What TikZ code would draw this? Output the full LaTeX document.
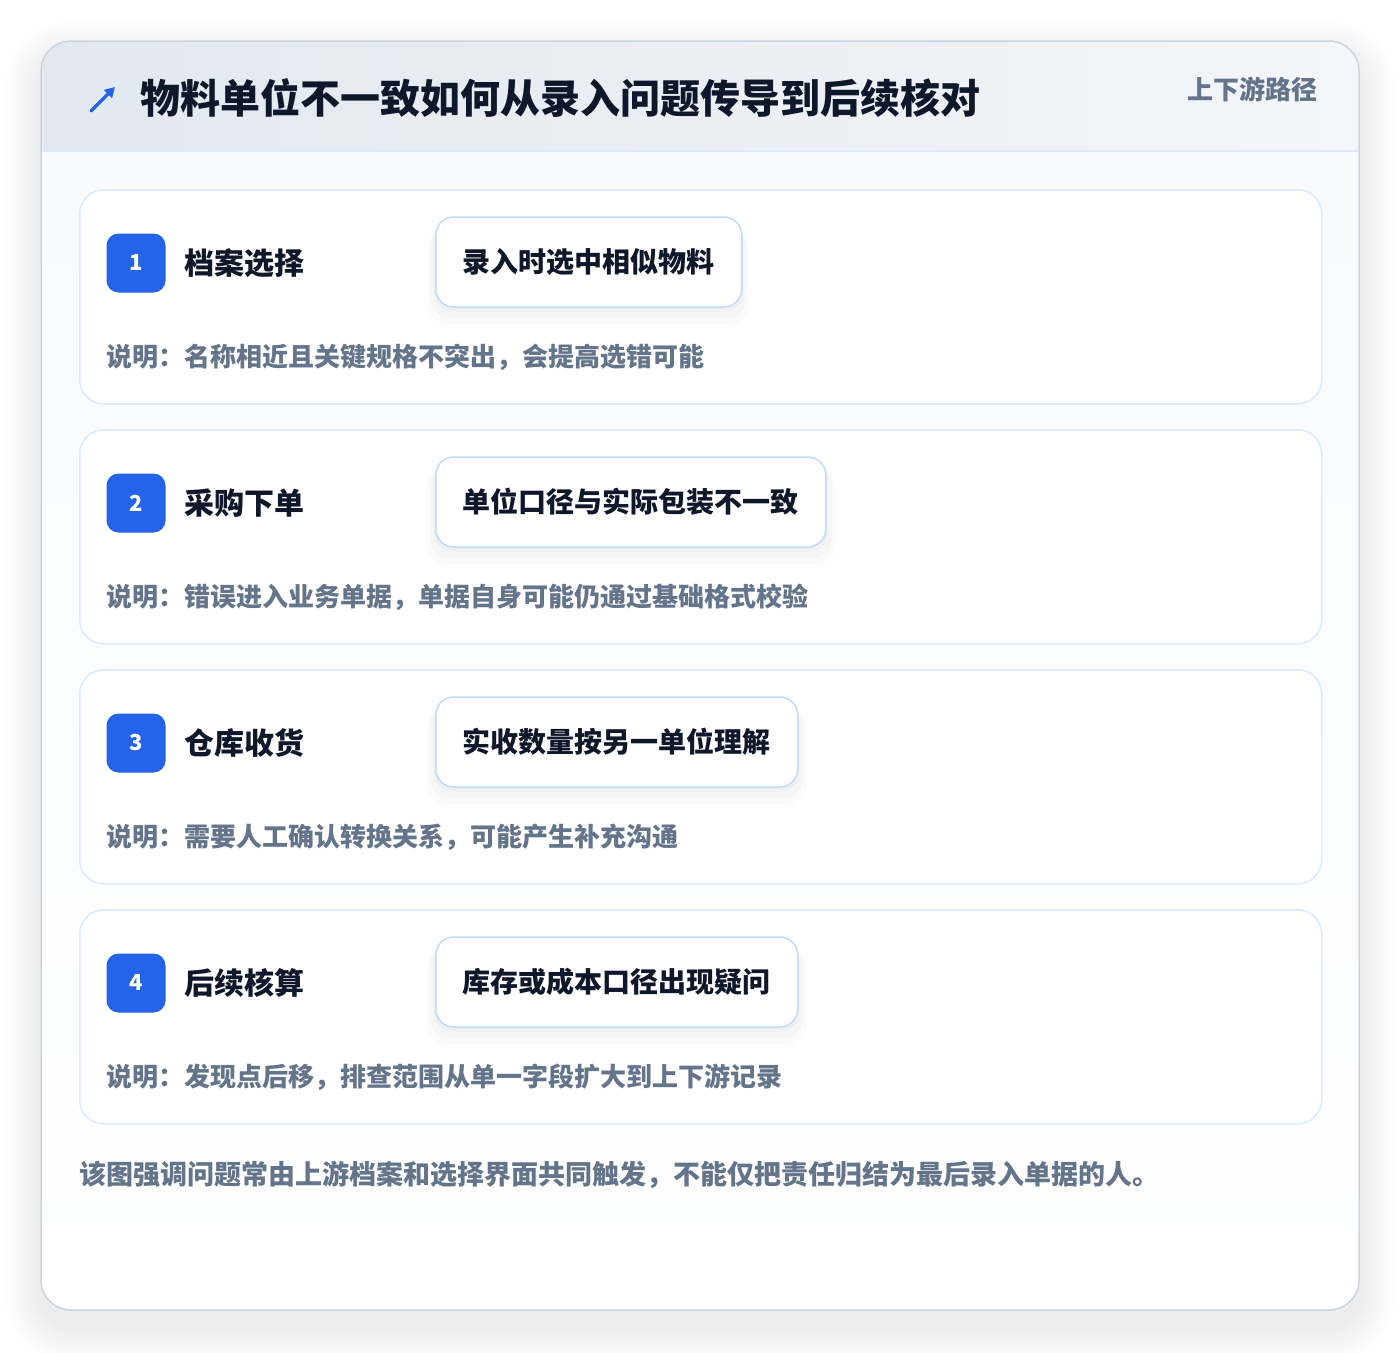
\documentclass[tikz,border=0pt]{standalone}
\usepackage{fontspec}
\setmainfont{Noto Sans CJK SC}
\usetikzlibrary{shadows,arrows.meta}
\definecolor{ink}{HTML}{0F172A}
\definecolor{muted}{HTML}{64748B}
\definecolor{accent}{HTML}{2563EB}
\definecolor{cardline}{HTML}{DBEAFE}
\definecolor{boxline}{HTML}{BFDBFE}
\definecolor{frameline}{HTML}{CBD5E1}
\definecolor{headl}{HTML}{E2E8F0}
\definecolor{headr}{HTML}{F3F6FA}
\definecolor{bodytop}{HTML}{F8FAFC}
\newcommand{\fs}[1]{\fontsize{#1}{#1}\selectfont}

\begin{document}
\begin{tikzpicture}[x=1pt, y=-1pt,
			line join=round, line cap=round,
			every node/.style = {inner sep=0pt, font=\bfseries},
			stepcard/.style = {draw=cardline, line width=1.5pt, fill=white, rounded corners=24pt,
				minimum width=1242pt, minimum height=214pt, anchor=north west},
			badge/.style = {fill=accent, rounded corners=12pt, minimum size=59pt, text=white, font=\fs{22}\bfseries},
			steplabel/.style = {anchor=west, text=ink, font=\fs{30}\bfseries},
			whatbox/.style = {draw=boxline, line width=1.5pt, fill=white, rounded corners=18pt,
				inner xsep=27pt, minimum height=90pt, anchor=west, text=ink, font=\fs{28}\bfseries,
				drop shadow={shadow xshift=0pt, shadow yshift=-4pt, shadow scale=1.01, fill=black, opacity=.025},
				drop shadow={shadow xshift=0pt, shadow yshift=-9pt, shadow scale=1.03, fill=black, opacity=.02},
				drop shadow={shadow xshift=0pt, shadow yshift=-14pt, shadow scale=1.05, fill=black, opacity=.015}},
			note/.style = {anchor=west, text=muted, font=\fs{26}\bfseries}
			]
			\useasboundingbox[fill=white] (0,0) rectangle (1400,1352);
			% soft shadow of the outer card
			\foreach \k [evaluate=\k as \r using 30+\k*2] in {1,...,18}
			\fill[black, opacity=.005, rounded corners=\r pt]
			(41-\k*2,41-\k*2+16) rectangle (1359+\k*2,1310+\k*2+16);
			% outer card with header
			\path[fill=white, rounded corners=30pt] (41,41) rectangle (1359,1310);
			\begin{scope}
				\clip[rounded corners=30pt] (41,41) rectangle (1359,1310);
				\shade[top color=bodytop, bottom color=white] (41,151) rectangle (1359,1310);
				\shade[left color=headl, right color=headr] (41,41) rectangle (1359,151);
			\end{scope}
			\draw[cardline, line width=1.5pt] (41,151) -- (1359,151);
			\draw[frameline, line width=1.5pt, rounded corners=30pt] (41,41) rectangle (1359,1310);
			
			\coordinate (icontail) at (91,111);
			\coordinate (iconhead) at (115,87);
			\draw[accent, line width=3.2pt, -{Triangle[length=10pt, width=11pt]}] (icontail) -- (iconhead);
			\node[anchor=west, text=ink, font=\fs{40}\bfseries] (title) at (140,98)
			{物料单位不一致如何从录入问题传导到后续核对};
			\node[anchor=east, text=muted, font=\fs{26}\bfseries] (tag) at (1318,89) {上下游路径};
			
			% the four steps
			\foreach \n/\t/\name/\what/\remark in {
				1/189/档案选择/录入时选中相似物料/说明：名称相近且关键规格不突出，会提高选错可能,
				2/429/采购下单/单位口径与实际包装不一致/说明：错误进入业务单据，单据自身可能仍通过基础格式校验,
				3/669/仓库收货/实收数量按另一单位理解/说明：需要人工确认转换关系，可能产生补充沟通,
				4/909/后续核算/库存或成本口径出现疑问/说明：发现点后移，排查范围从单一字段扩大到上下游记录} {
				\node[stepcard] (card\n) at (79,\t) {};
				\node[badge] (badge\n) at (136,\t+74) {\n};
				\node[steplabel] (label\n) at (184,\t+74) {\name};
				\node[whatbox] (what\n) at (435,\t+73) {\what};
				\node[note] (note\n) at (106,\t+168) {\remark};
			}
			
			\node[note, anchor=west, font=\fs{27}\bfseries] (summary) at (79,1175)
			{该图强调问题常由上游档案和选择界面共同触发，不能仅把责任归结为最后录入单据的人。};
\end{tikzpicture}
\end{document}
